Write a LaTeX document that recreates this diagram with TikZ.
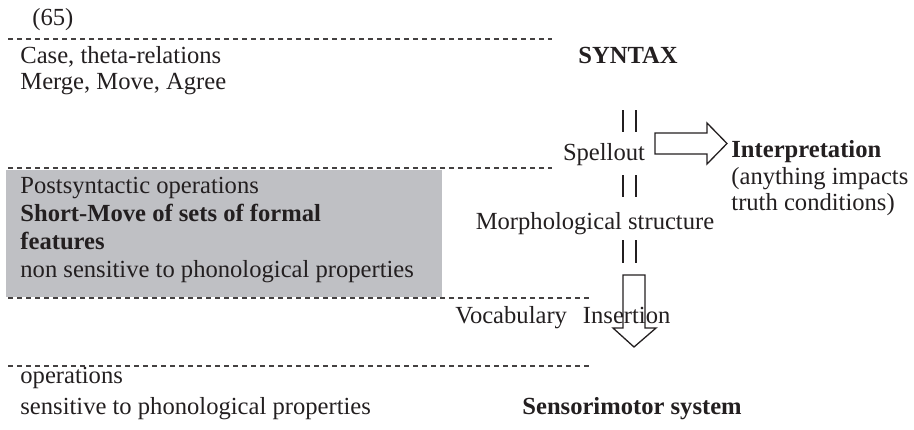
\documentclass[tikz,border=0pt]{standalone}
\usepackage{fontspec}
\setmainfont{Liberation Serif}
\usepackage{xcolor}
\definecolor{boxgray}{RGB}{191,192,196}
\definecolor{ink}{RGB}{35,31,32}
\tikzset{
  lbl/.style={anchor=base west, inner sep=0pt, text=ink, font=\fontsize{12.3}{14}\selectfont},
  sep/.style={draw=ink!85, line width=0.6pt, dash pattern=on 2.5pt off 2pt},
  bars/.style={draw=ink, line width=0.6pt},
  blk/.style={draw=ink, line width=0.65pt, line join=miter}
}
\begin{document}
\begin{tikzpicture}[x=0.5pt, y=-0.5pt]
        \useasboundingbox (0,0) rectangle (914,429);
        % grey box of the postsyntactic level
        \fill[boxgray] (6,170) rectangle (442,297);
        % level separators
        \coordinate (L1) at (8,39);  \coordinate (R1) at (552,39);
        \coordinate (L2) at (8,168); \coordinate (R2) at (552,168);
        \coordinate (L3) at (8,298); \coordinate (R3) at (590,298);
        \coordinate (L4) at (8,366); \coordinate (R4) at (590,366);
        \draw[sep] (L1) -- (R1); \draw[sep] (L2) -- (R2); \draw[sep] (L3) -- (R3); \draw[sep] (L4) -- (R4);
        % texts
        \node[lbl] (num) at (32,25) {(65)};
        \node[lbl] (case) at (20,63) {Case, theta-relations};
        \node[lbl] (merge) at (20,89) {Merge, Move, Agree};
        \node[lbl, anchor=base] (syn) at (628,63) {\bfseries SYNTAX};
        \node[lbl, anchor=base] (spell) at (604,160) {Spellout};
        \node[lbl] (interp) at (731,157) {\bfseries Interpretation};
        \node[lbl] (any) at (731,184) {(anything impacts};
        \node[lbl] (truth) at (731,210) {truth conditions)};
        \node[lbl] (post) at (20,193) {Postsyntactic operations};
        \node[lbl] (short) at (20,221) {\bfseries Short-Move of sets of formal};
        \node[lbl] (feat) at (20,249) {\bfseries features};
        \node[lbl] (nonsens) at (20,277) {non sensitive to phonological properties};
        \node[lbl, anchor=base] (morph) at (595,229) {Morphological structure};
        \node[lbl] (vocab) at (455,323) {Vocabulary\hspace{8pt}Insertion};
        \node[lbl] (ops) at (20,383) {operations};
        \node[lbl] (sens) at (20,414) {sensitive to phonological properties};
        \node[lbl] (senso) at (522,414) {\bfseries Sensorimotor system};
        % double bars between the levels
        \foreach \t/\b in {110/132, 175/197, 240/263} {
            \draw[bars] (623,\t) -- (623,\b); \draw[bars] (636,\t) -- (636,\b);
        }
        % block arrows
        \coordinate (S) at (655,144);
        \draw[blk] (S) ++(0,-11) -- ++(52,0) -- ++(0,-10) -- ++(20,20.5) -- ++(-20,20.5) -- ++(0,-10) -- ++(-52,0) -- cycle;
        \coordinate (V) at (634,275);
        \draw[blk] (V) ++(-11,0) -- ++(0,53) -- ++(-10,0) -- ++(21,19) -- ++(22,-19) -- ++(-11,0) -- ++(0,-53) -- cycle;
    \end{tikzpicture}
\end{document}
